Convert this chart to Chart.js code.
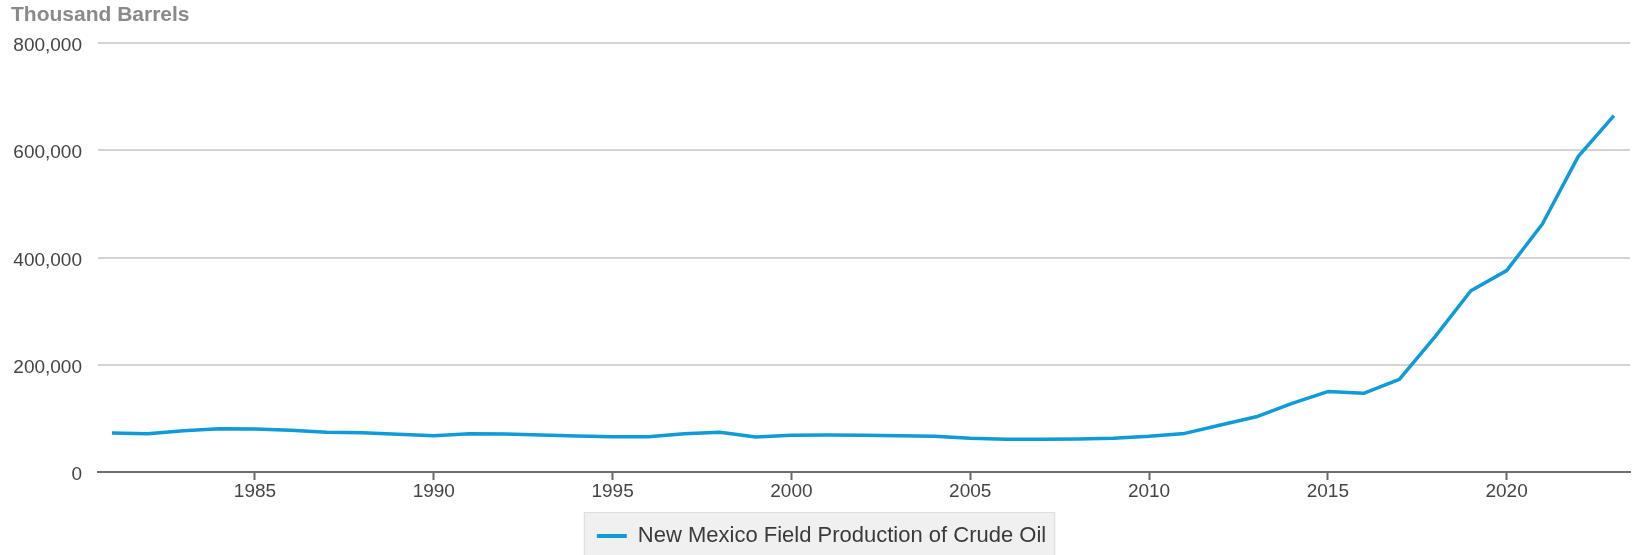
<!DOCTYPE html>
<html>
<head>
<meta charset="utf-8">
<script src="https://cdn.jsdelivr.net/npm/chart.js@4.4.1/dist/chart.umd.min.js"></script>
<style>
  html, body { margin: 0; padding: 0; background: #fff; }
  canvas { display: block; }
</style>
</head>
<body>
<canvas id="chart" width="1632" height="555"></canvas>
<script>
// data (thousand barrels per year)
const years = [1981, 1982, 1983, 1984, 1985, 1986, 1987, 1988, 1989, 1990,
  1991, 1992, 1993, 1994, 1995, 1996, 1997, 1998, 1999, 2000,
  2001, 2002, 2003, 2004, 2005, 2006, 2007, 2008, 2009, 2010,
  2011, 2012, 2013, 2014, 2015, 2016, 2017, 2018, 2019, 2020,
  2021, 2022, 2023];
const production = [72700, 71500, 77000, 80800, 80200, 77700, 74000, 73300, 70300, 67800,
  71500, 70900, 69000, 67100, 65900, 65900, 71500, 74000, 65300, 68400,
  69000, 68400, 67800, 66500, 62800, 61000, 61000, 61500, 62800, 66500,
  72000, 87600, 103000, 128000, 150000, 146700, 172900, 252400, 338000, 375500,
  462500, 588000, 664500];
const xTicks = [1985, 1990, 1995, 2000, 2005, 2010, 2015, 2020];
const yTicks = [0, 200000, 400000, 600000, 800000];
const seriesLabel = 'New Mexico Field Production of Crude Oil';
const unitTitle = 'Thousand Barrels';

const lineColor = '#0f9ad8';
const fontFamily = '"Liberation Sans", Arial, sans-serif';
Chart.defaults.font.family = fontFamily;

// legend gets a fixed height so the plot area lands where the reference has it
const legendHeightPlugin = {
  id: 'legendHeight',
  beforeInit(chart) {
    const fit = chart.legend.fit;
    chart.legend.fit = function () {
      fit.bind(chart.legend)();
      this.height = 43;
    };
  }
};

// grey box behind the legend item + unit title in the top-left corner
const decorPlugin = {
  id: 'decor',
  beforeDraw(chart) {
    const lg = chart.legend;
    if (!lg || !lg.legendHitBoxes || !lg.legendHitBoxes.length) return;
    const hb = lg.legendHitBoxes[0];
    const ctx = chart.ctx;
    const left = hb.left - 13;
    const right = hb.left + hb.width + 9;
    ctx.save();
    ctx.fillStyle = '#f0f0f0';
    ctx.fillRect(left, lg.top, right - left, 60);
    ctx.strokeStyle = '#dddddd';
    ctx.lineWidth = 1;
    ctx.strokeRect(left + 0.5, lg.top + 0.5, right - left - 1, 60);
    ctx.restore();
  },
  afterDraw(chart) {
    const ctx = chart.ctx;
    ctx.save();
    ctx.font = 'bold 21px ' + fontFamily;
    ctx.fillStyle = '#8a8a8a';
    ctx.textBaseline = 'alphabetic';
    ctx.textAlign = 'left';
    ctx.fillText(unitTitle, 11, 20.5);
    ctx.restore();
  }
};

new Chart(document.getElementById('chart'), {
  type: 'line',
  data: {
    datasets: [{
      label: seriesLabel,
      data: years.map((y, i) => ({ x: y, y: production[i] })),
      borderColor: lineColor,
      backgroundColor: lineColor,
      borderWidth: 3.5,
      pointRadius: 0,
      tension: 0,
      fill: false,
      borderJoinStyle: 'round'
    }]
  },
  options: {
    responsive: false,
    animation: false,
    devicePixelRatio: 1,
    layout: { padding: { top: 43, left: 13, right: 2, bottom: 0 } },
    scales: {
      x: {
        type: 'linear',
        min: 1980.61,
        max: 2023.45,
        afterBuildTicks: (scale) => { scale.ticks = xTicks.map(v => ({ value: v })); },
        afterFit: (scale) => { scale.height = 40; },
        grid: {
          drawOnChartArea: false,
          drawTicks: true,
          tickLength: 8,
          tickColor: '#666',
          tickWidth: 2
        },
        border: { display: true, color: '#6e6e6e', width: 2 },
        ticks: {
          color: '#444',
          font: { size: 19 },
          padding: 0,
          maxRotation: 0,
          autoSkip: false,
          callback: (v) => String(v)
        }
      },
      y: {
        min: 0,
        max: 800000,
        afterBuildTicks: (scale) => { scale.ticks = yTicks.map(v => ({ value: v })); },
        afterFit: (scale) => { scale.width = 85; },
        grid: {
          color: (c) => (c.tick && c.tick.value === 0 ? 'rgba(0,0,0,0)' : '#d4d4d4'),
          lineWidth: 2,
          drawTicks: false
        },
        border: { display: false },
        ticks: {
          color: '#444',
          font: { size: 19 },
          padding: 16,
          labelOffset: 3,
          callback: (v) => v.toLocaleString('en-US')
        }
      }
    },
    plugins: {
      title: { display: false },
      tooltip: { enabled: false },
      legend: {
        position: 'bottom',
        align: 'center',
        labels: {
          color: '#3a3a3a',
          font: { size: 22 },
          padding: 13,
          usePointStyle: true,
          pointStyle: 'line',
          pointStyleWidth: 30,
          generateLabels: (chart) => {
            const items = Chart.defaults.plugins.legend.labels.generateLabels(chart);
            items.forEach(it => { it.lineWidth = 4; it.strokeStyle = lineColor; });
            return items;
          }
        }
      }
    }
  },
  plugins: [legendHeightPlugin, decorPlugin]
});
</script>
</body>
</html>
